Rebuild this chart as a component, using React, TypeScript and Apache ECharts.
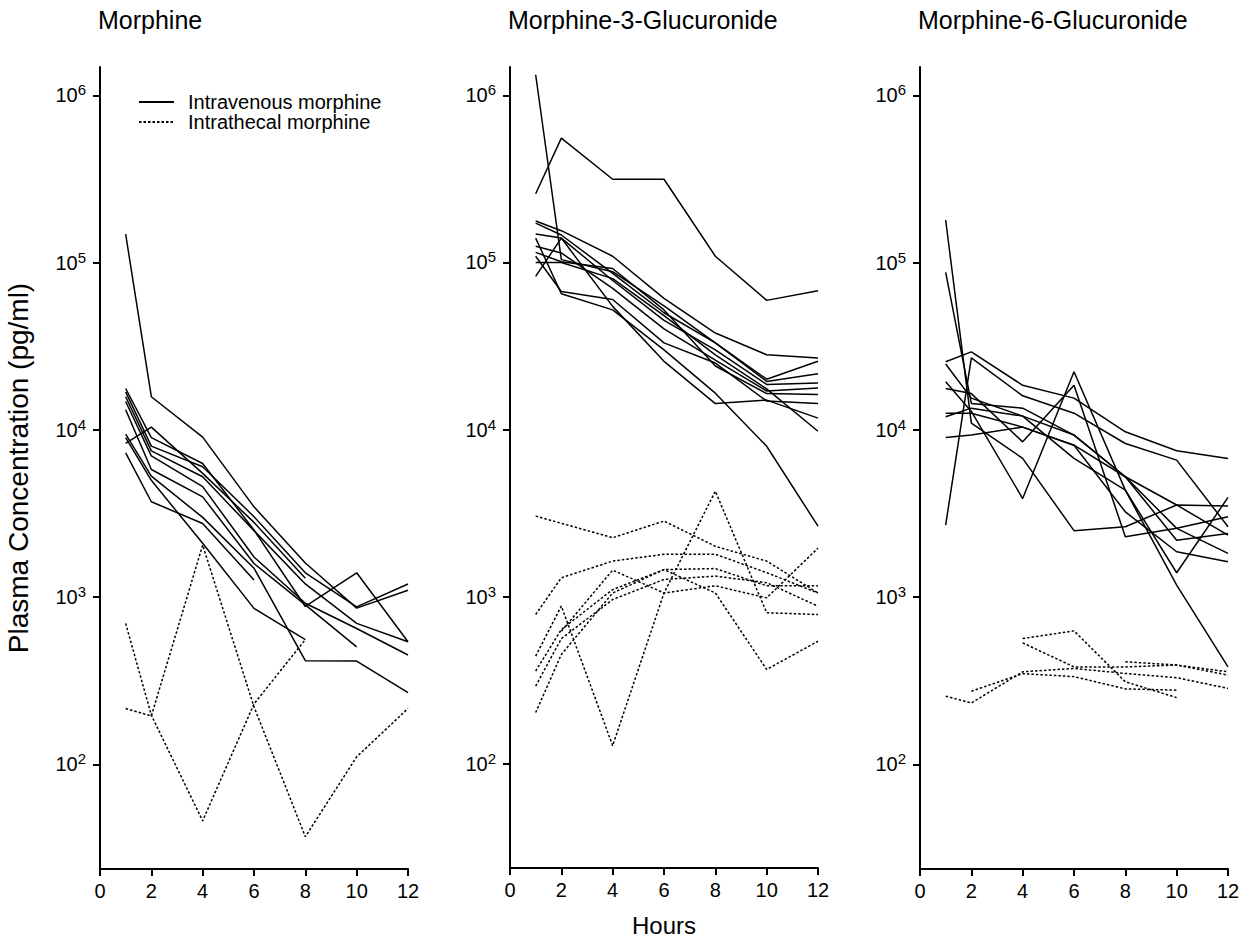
import React, { useEffect, useRef } from 'react';
import * as echarts from 'echarts';

// ---- data ----
const hours = [1, 2, 4, 6, 8, 10, 12];
const yTickValues = [100, 1000, 10000, 100000, 1000000];
const panelTitles = ['Morphine', 'Morphine-3-Glucuronide', 'Morphine-6-Glucuronide'];
const ivName = 'Intravenous morphine';
const itName = 'Intrathecal morphine';
const xAxisName = 'Hours';
const yAxisName = 'Plasma Concentration (pg/ml)';

// values in pg/ml at hours 1, 2, 4, 6, 8, 10, 12 (null = not sampled)
const morphineIV: (number | null)[][] = [
  [148000, 15800, 9060, 3470, 1600, 860, 1100],
  [17700, 9000, 6300, 2520, 880, 1400, 541],
  [16900, 8000, 6030, 3030, 1400, 875, 1200],
  [15800, 7500, 5250, 2500, 1200, 697, 541],
  [14800, 7000, 4580, 1740, 920, 650, 451],
  [13200, 5800, 3980, 1590, 900, 505, null],
  [9440, 5300, 3000, 1490, 417, 415, 269],
  [8300, 10400, 5500, 2800, 1300, null, null],
  [7300, 3720, 2760, 1265, null, null, null],
  [9000, 5000, 2100, 857, 558, null, null],
];
const morphineIT: (number | null)[][] = [
  [697, 197, 46, 230, 558, null, null],
  [216, 195, 2050, 221, 37, 111, 216],
];
const m3gIV: (number | null)[][] = [
  [1330000, 104000, 88000, 55000, 33000, 20000, 25600],
  [258000, 555000, 315000, 315000, 109000, 59300, 67700],
  [177000, 155000, 109000, 61000, 37800, 28000, 26800],
  [172000, 146000, 86000, 50000, 33000, 19400, 21600],
  [148000, 140000, 78000, 45000, 30000, 18600, 19000],
  [125000, 114000, 70000, 40000, 26000, 17000, 17700],
  [115000, 101000, 92000, 52000, 24000, 16400, 16200],
  [109000, 67000, 60000, 33000, 25000, 14800, 14300],
  [82500, 140000, 54600, 25600, 14300, 15000, 11700],
  [140000, 65000, 52000, 30000, 16500, 7940, 2640],
  [100000, 100000, 80000, 48000, 28000, 17500, 9760],
];
const m3gIT: (number | null)[][] = [
  [3030, null, 2250, 2830, 2000, 1630, 1050],
  [440, 877, 128, 1050, 4270, 800, 780],
  [781, 1295, 1630, 1790, 1790, 1390, 1050],
  [358, 635, 1100, 1450, 1470, 1160, 1160],
  [291, 560, 960, 1265, 1325, 1210, 875],
  [202, 450, 1050, 1450, 1050, 366, 540],
  [null, 620, 1440, 1050, 1160, 982, 1950],
];
const m6gIV: (number | null)[][] = [
  [25600, 29300, 18500, 15500, 9750, 7510, 6760],
  [180000, 11000, 6760, 2500, 2640, 3560, 3510],
  [2700, 27000, 16000, 12600, 8300, 6600, 2640],
  [19400, 12900, 3890, 22300, 4370, 1400, 3950],
  [17700, 16500, 8490, 18500, 2300, 2580, 3030],
  [87500, 14400, 13500, 9320, 5250, 2190, 2400],
  [12600, 12600, 10400, 8110, 3240, 1870, 1630],
  [12000, 13500, 12100, 6760, 4370, 1180, 383],
  [9020, 9320, 10400, 8110, 5250, 2580, 1830],
  [24800, 15500, 12100, 9320, 5250, 3560, 2350],
];
const m6gIT: (number | null)[][] = [
  [256, 233, 358, 375, 350, 330, 285],
  [null, 274, 349, 335, 283, 278, null],
  [null, null, 566, 629, 312, 251, null],
  [null, null, 533, 383, 383, 393, 358],
  [null, null, null, null, 411, 393, 342],
];

const panels = [
  { iv: morphineIV, it: morphineIT },
  { iv: m3gIV, it: m3gIT },
  { iv: m6gIV, it: m6gIT },
];

const FONT = '"Liberation Sans", Arial, Helvetica, sans-serif';
const gridLefts = [100, 510, 920];
const GRID_TOP = 67;
const GRID_W = 308;
const GRID_H = 802;

function toPairs(row: (number | null)[]) {
  const out: [number, number][] = [];
  row.forEach((v, i) => {
    if (v != null) out.push([hours[i], v]);
  });
  return out;
}

export default function App() {
  const ref = useRef<HTMLDivElement>(null);
  useEffect(() => {
    if (!ref.current) return;
    const chart = echarts.init(ref.current, null, { renderer: 'svg' });

    const grid = gridLefts.map((l) => ({ left: l, top: GRID_TOP, width: GRID_W, height: GRID_H }));
    const axisLine = { show: true, onZero: false, lineStyle: { color: '#000', width: 2 } };

    const xAxis = gridLefts.map((_, i) => ({
      type: 'value',
      gridIndex: i,
      min: 0,
      max: 12,
      interval: 2,
      axisLine,
      axisTick: { show: true, length: 7, lineStyle: { color: '#000', width: 2 } },
      axisLabel: { color: '#000', fontSize: 20, fontFamily: FONT, margin: 12 },
      splitLine: { show: false },
      name: i === 1 ? xAxisName : '',
      nameLocation: 'middle',
      nameGap: 45,
      nameTextStyle: { color: '#000', fontSize: 24, fontFamily: FONT },
    }));

    const yAxis = gridLefts.map((_, i) => ({
      type: 'log',
      logBase: 10,
      gridIndex: i,
      min: 23.7,
      max: 1480000,
      axisLine,
      axisTick: { show: true, length: 7, customValues: yTickValues, lineStyle: { color: '#000', width: 2 } },
      axisLabel: {
        customValues: yTickValues,
        margin: 14,
        formatter: (v: number) => '{b|10}{s|' + Math.round(Math.log10(v)) + '}',
        rich: {
          b: { fontSize: 20, color: '#000', fontFamily: FONT, lineHeight: 26 },
          s: { fontSize: 15, color: '#000', fontFamily: FONT, verticalAlign: 'top', lineHeight: 15 },
        },
      },
      minorTick: { show: false },
      splitLine: { show: false },
      name: i === 0 ? yAxisName : '',
      nameLocation: 'middle',
      nameRotate: 90,
      nameGap: 68,
      nameTextStyle: { color: '#000', fontSize: 28, fontFamily: FONT },
    }));

    const series: any[] = [];
    panels.forEach((p, i) => {
      p.iv.forEach((row) => {
        series.push({
          type: 'line',
          name: ivName,
          xAxisIndex: i,
          yAxisIndex: i,
          data: toPairs(row),
          symbol: 'none',
          silent: true,
          lineStyle: { color: '#000', width: 1.5, type: 'solid' },
          itemStyle: { color: '#000' },
        });
      });
      p.it.forEach((row) => {
        series.push({
          type: 'line',
          name: itName,
          xAxisIndex: i,
          yAxisIndex: i,
          data: toPairs(row),
          symbol: 'none',
          silent: true,
          lineStyle: { color: '#000', width: 1.5, type: [2.5, 2] },
          itemStyle: { color: '#000' },
        });
      });
    });

    chart.setOption({
      animation: false,
      backgroundColor: '#fff',
      title: panelTitles.map((t, i) => ({
        text: t,
        left: gridLefts[i] - 2,
        top: 7,
        padding: 0,
        textStyle: { color: '#000', fontSize: 25, fontWeight: 'normal', fontFamily: FONT },
      })),
      legend: {
        data: [ivName, itName],
        orient: 'vertical',
        left: 138,
        top: 92,
        padding: 0,
        itemWidth: 35,
        itemHeight: 14,
        itemGap: 0,
        selectedMode: false,
        itemStyle: { opacity: 0 },
        textStyle: { color: '#000', fontSize: 20, fontFamily: FONT, padding: [0, 0, 0, 9] },
      },
      grid,
      xAxis,
      yAxis,
      series,
    });

    return () => chart.dispose();
  }, []);

  return (
    <div
      ref={ref}
      style={{ position: 'fixed', left: 0, top: 0, width: 1245, height: 942, background: '#fff' }}
    />
  );
}
